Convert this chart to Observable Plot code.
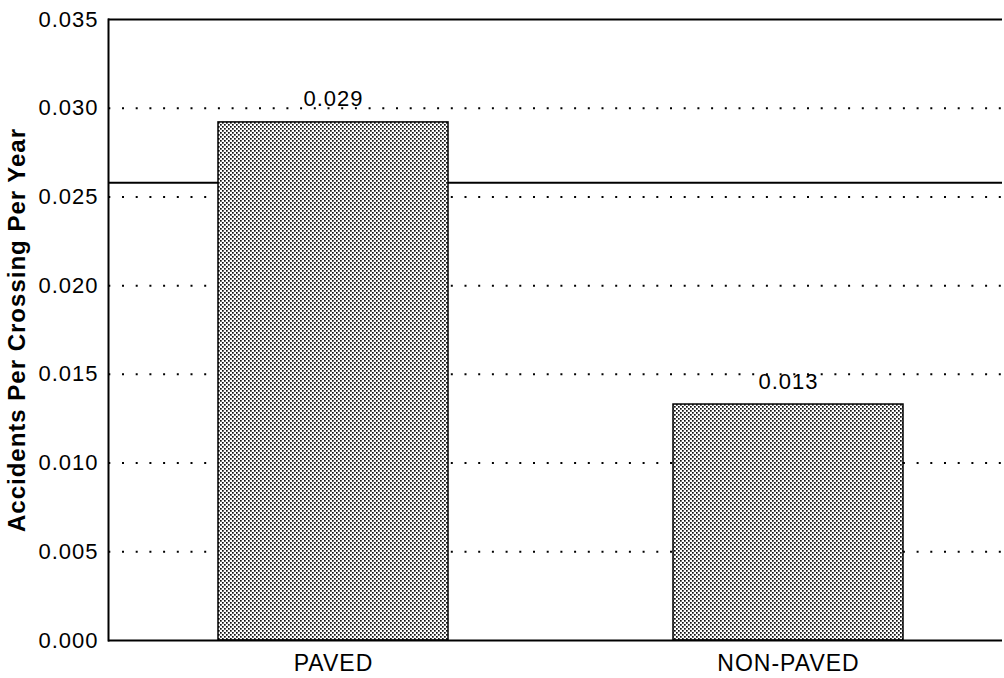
<!DOCTYPE html>
<html>
<head>
<meta charset="utf-8">
<script src="https://cdn.jsdelivr.net/npm/d3@7"></script>
<script src="https://cdn.jsdelivr.net/npm/@observablehq/plot@0.6"></script>
<style>
  html, body { margin: 0; padding: 0; background: #fff; }
  #chart svg { display: block; }
</style>
</head>
<body>
<div id="chart"></div>
<script>
const categories = ["PAVED", "NON-PAVED"];
const values = [0.0292, 0.0133];
const valueLabels = ["0.029", "0.013"];
const referenceLine = [0.0258];
const yTicks = [0, 0.005, 0.010, 0.015, 0.020, 0.025, 0.030, 0.035];
const gridValues = [0.005, 0.010, 0.015, 0.020, 0.025, 0.030];
const yLabel = "Accidents Per Crossing Per Year";

const data = categories.map((c, i) => ({category: c, value: values[i], label: valueLabels[i]}));

const font = "'Liberation Sans', Arial, Helvetica, sans-serif";

const chart = Plot.plot({
  width: 1004,
  height: 678,
  marginLeft: 108,
  marginTop: 19,
  marginBottom: 38,
  marginRight: 2,
  style: {fontFamily: font, fontSize: "22px", color: "#000", background: "#fff", letterSpacing: "1px"},
  x: {domain: categories, paddingInner: 0.4956, paddingOuter: 0.229, align: 0.526},
  y: {domain: [0, 0.035]},
  marks: [
    Plot.ruleY(gridValues, {stroke: "#000", strokeWidth: 2, strokeDasharray: "2 11.7", strokeDashoffset: -14}),
    Plot.ruleY(referenceLine, {stroke: "#000", strokeWidth: 2}),
    Plot.barY(data, {x: "category", y: "value", fill: "url(#stipple)", stroke: "#000", strokeWidth: 1.5}),
    Plot.text(data, {x: "category", y: "value", text: "label", dy: -23, fontSize: 22, fill: "#000"}),
    Plot.ruleY([0, 0.035], {stroke: "#000", strokeWidth: 2}),
    Plot.frame({anchor: "left", stroke: "#000", strokeWidth: 2}),
    Plot.axisY({ticks: yTicks, tickFormat: d3.format(".3f"), tickSize: 0, tickPadding: 10,
      label: yLabel, labelAnchor: "center", labelArrow: "none", labelOffset: 101, fontSize: 22}),
    Plot.axisX({tickSize: 0, tickPadding: 14, label: null, fontSize: 23})
  ]
});

// pattern definition for stippled bar fill
const svg = d3.select(chart);
const defs = svg.insert("defs", ":first-child");
const pat = defs.append("pattern").attr("id", "stipple").attr("patternUnits", "userSpaceOnUse")
  .attr("width", 4).attr("height", 4);
pat.append("rect").attr("width", 4).attr("height", 4).attr("fill", "#fff");
pat.append("rect").attr("x", 0).attr("y", 0).attr("width", 1.7).attr("height", 1.7).attr("fill", "#111");
pat.append("rect").attr("x", 2).attr("y", 2).attr("width", 1.7).attr("height", 1.7).attr("fill", "#111");

// y-axis label styling
svg.selectAll("[aria-label='y-axis label'] text").style("font-weight", "bold").style("font-size", "24px").style("letter-spacing", "1px");

document.getElementById("chart").appendChild(chart);
</script>
</body>
</html>
